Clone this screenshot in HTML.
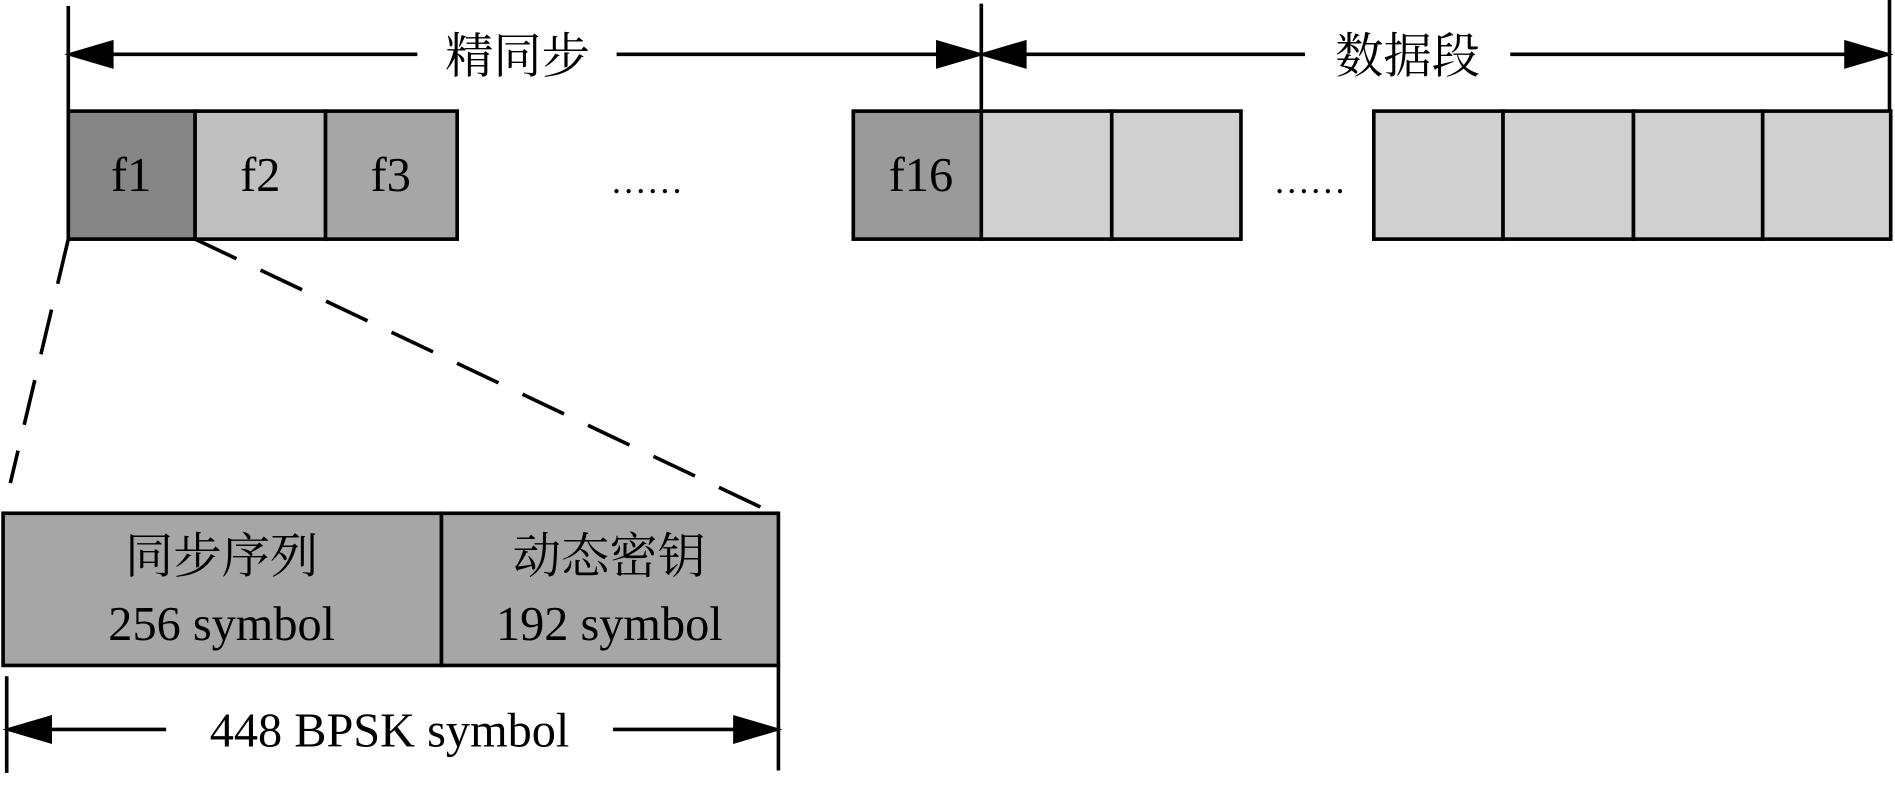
<!DOCTYPE html>
<html><head><meta charset="utf-8"><style>html,body{margin:0;padding:0;background:#fff}svg{display:block}</style></head>
<body>
<svg width="1895" height="785" viewBox="0 0 1568 650" xmlns="http://www.w3.org/2000/svg" font-family="'Liberation Serif','Noto Serif CJK SC',serif" font-size="40">
<defs>
<marker id="a" markerWidth="10" markerHeight="8" refX="10" refY="4" orient="auto" markerUnits="userSpaceOnUse" viewBox="0 0 10 8"><path d="M0,0 L10,4 L0,8z"/></marker>
</defs>
<g stroke="#000" stroke-width="3" fill="none">
<line x1="56" y1="5" x2="56" y2="198"/>
<line x1="812" y1="3" x2="812" y2="92"/>
<line x1="1564" y1="0" x2="1564" y2="92"/>
</g>
<g stroke="#000" stroke-width="3">
<line x1="345" y1="45" x2="58" y2="45"/>
<polygon points="58,45 92,35 92,55" fill="#000"/>
<line x1="510" y1="45" x2="810" y2="45"/>
<polygon points="810,45 776,35 776,55" fill="#000"/>
<line x1="1080" y1="45" x2="814" y2="45"/>
<polygon points="814,45 848,35 848,55" fill="#000"/>
<line x1="1250" y1="45" x2="1562" y2="45"/>
<polygon points="1562,45 1528,35 1528,55" fill="#000"/>
</g>
<text x="428" y="60" text-anchor="middle">精同步</text>
<text x="1165" y="60" text-anchor="middle">数据段</text>
<g stroke="#000" stroke-width="3">
<rect x="56" y="92" width="105" height="106" fill="#858585"/>
<rect x="161" y="92" width="108" height="106" fill="#c0c0c0"/>
<rect x="269" y="92" width="109" height="106" fill="#a6a6a6"/>
<rect x="706" y="92" width="106" height="106" fill="#9a9a9a"/>
<rect x="812" y="92" width="108" height="106" fill="#d0d0d0"/>
<rect x="920" y="92" width="107" height="106" fill="#d0d0d0"/>
<rect x="1137" y="92" width="107" height="106" fill="#d0d0d0"/>
<rect x="1244" y="92" width="108" height="106" fill="#d0d0d0"/>
<rect x="1352" y="92" width="107" height="106" fill="#d0d0d0"/>
<rect x="1459" y="92" width="106" height="106" fill="#d0d0d0"/>
</g>
<text x="108" y="158" text-anchor="middle">f1</text>
<text x="215" y="158" text-anchor="middle">f2</text>
<text x="323" y="158" text-anchor="middle">f3</text>
<text x="762" y="158" text-anchor="middle">f16</text>
<text x="535" y="160" text-anchor="middle" font-size="30">……</text>
<text x="1084" y="160" text-anchor="middle" font-size="30">……</text>
<g stroke="#000" stroke-width="3" stroke-dasharray="38,22" fill="none">
<line x1="56" y1="198" x2="8" y2="400"/>
<line x1="161" y1="198" x2="640" y2="425"/>
</g>
<g stroke="#000" stroke-width="3">
<rect x="2" y="425" width="363" height="126" fill="#a6a6a6"/>
<rect x="365" y="425" width="279" height="126" fill="#a6a6a6"/>
<line x1="5" y1="560" x2="5" y2="640"/>
<line x1="644" y1="551" x2="644" y2="638"/>
<line x1="137" y1="604" x2="7" y2="604"/>
<polygon points="7,604 41,594 41,614" fill="#000"/>
<line x1="507" y1="604" x2="642" y2="604"/>
<polygon points="642,604 608,594 608,614" fill="#000"/>
</g>
<text x="183" y="474" text-anchor="middle">同步序列</text>
<text x="183" y="530" text-anchor="middle">256 symbol</text>
<text x="504" y="474" text-anchor="middle">动态密钥</text>
<text x="504" y="530" text-anchor="middle">192 symbol</text>
<text x="322" y="618" text-anchor="middle">448 BPSK symbol</text>
</svg>
</body></html>
